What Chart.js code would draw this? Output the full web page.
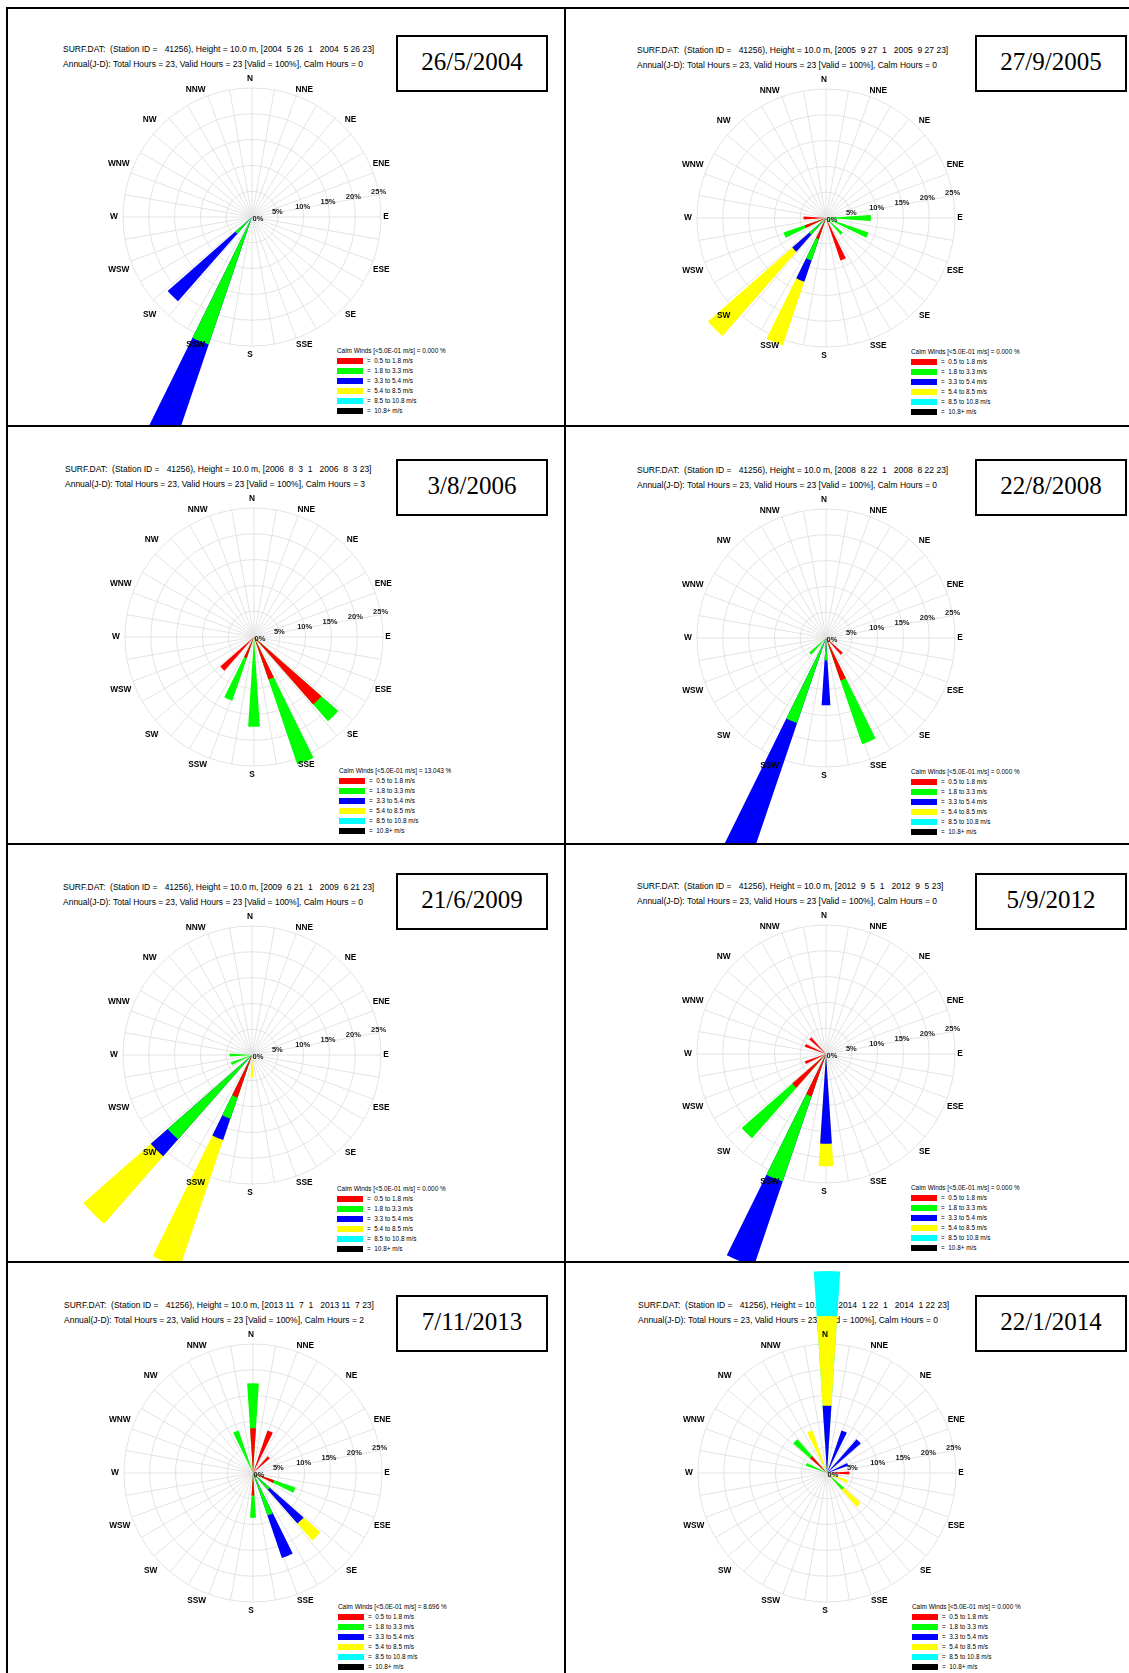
<!DOCTYPE html>
<html><head><meta charset="utf-8">
<script src="https://cdn.jsdelivr.net/npm/chart.js@4.4.1/dist/chart.umd.min.js"></script>
<style>
html,body{margin:0;padding:0;background:#fff;}
body{width:1129px;height:1673px;position:relative;overflow:hidden;font-family:"Liberation Sans",Arial,sans-serif;}
.ln{position:absolute;background:#000;}
.hdr{position:absolute;white-space:pre;font-size:8.5px;line-height:10px;height:10px;color:#000;}
.date{position:absolute;border:2px solid #000;box-sizing:border-box;font-family:"Liberation Serif","Times New Roman",serif;font-size:25px;line-height:25px;display:flex;align-items:center;justify-content:center;color:#000;background:#fff;padding-bottom:5px;}
.leg{position:absolute;white-space:pre;font-size:6.4px;line-height:8px;height:8px;color:#000;}
.sw{position:absolute;width:26px;height:6px;}
canvas{position:absolute;}
</style></head><body>
<script>
// ---------------- data ----------------
const directions = ['N','NNE','NE','ENE','E','ESE','SE','SSE','S','SSW','SW','WSW','W','WNW','NW','NNW'];
const speedClasses = ['0.5 to 1.8 m/s','1.8 to 3.3 m/s','3.3 to 5.4 m/s','5.4 to 8.5 m/s','8.5 to 10.8 m/s','10.8+ m/s'];
const ringTicks = [0,5,10,15,20,25];
const ringTickLabels = ['0%','5%','10%','15%','20%','25%'];
const panelDates = ['26/5/2004','27/9/2005','3/8/2006','22/8/2008','21/6/2009','5/9/2012','7/11/2013','22/1/2014'];
const periodStrings = ['2004  5 26  1   2004  5 26 23','2005  9 27  1   2005  9 27 23','2006  8  3  1   2006  8  3 23','2008  8 22  1   2008  8 22 23','2009  6 21  1   2009  6 21 23','2012  9  5  1   2012  9  5 23','2013 11  7  1   2013 11  7 23','2014  1 22  1   2014  1 22 23'];
const totalHours = [23,23,23,23,23,23,23,23];
const validHours = [23,23,23,23,23,23,23,23];
const calmHours  = [0,0,3,0,0,0,2,0];

// hours per direction (N, NNE, ..., NNW), one row per speed class
const hours2004 = [
 [0,0,0,0,0,0,0,0,0,0,0,0,0,0,0,0],
 [0,0,0,0,0,0,0,0,0,6,1,0,0,0,0,0],
 [0,0,0,0,0,0,0,0,0,12,4,0,0,0,0,0],
 [0,0,0,0,0,0,0,0,0,0,0,0,0,0,0,0],
 [0,0,0,0,0,0,0,0,0,0,0,0,0,0,0,0],
 [0,0,0,0,0,0,0,0,0,0,0,0,0,0,0,0]];
const hours2005 = [
 [0,0,0,0,0,0,0,2,0,1,0,1,1,0,0,0],
 [0,0,0,0,2,2,1,0,0,1,1,1,0,0,0,0],
 [0,0,0,0,0,0,0,0,0,1,1,0,0,0,0,0],
 [0,0,0,0,0,0,0,0,0,3,5,0,0,0,0,0],
 [0,0,0,0,0,0,0,0,0,0,0,0,0,0,0,0],
 [0,0,0,0,0,0,0,0,0,0,0,0,0,0,0,0]];
const hours2006 = [
 [0,0,0,0,0,0,4,2,0,1,2,0,0,0,0,0],
 [0,0,0,0,0,0,1,4,4,2,0,0,0,0,0,0],
 [0,0,0,0,0,0,0,0,0,0,0,0,0,0,0,0],
 [0,0,0,0,0,0,0,0,0,0,0,0,0,0,0,0],
 [0,0,0,0,0,0,0,0,0,0,0,0,0,0,0,0],
 [0,0,0,0,0,0,0,0,0,0,0,0,0,0,0,0]];
const hours2008 = [
 [0,0,0,0,0,0,1,2,0,0,0,0,0,0,0,0],
 [0,0,0,0,0,0,0,3,1,4,1,0,0,0,0,0],
 [0,0,0,0,0,0,0,0,2,9,0,0,0,0,0,0],
 [0,0,0,0,0,0,0,0,0,0,0,0,0,0,0,0],
 [0,0,0,0,0,0,0,0,0,0,0,0,0,0,0,0],
 [0,0,0,0,0,0,0,0,0,0,0,0,0,0,0,0]];
const hours2009 = [
 [0,0,0,0,0,0,0,0,0,2,0,0,0,0,0,0],
 [0,0,0,0,0,0,0,0,0,1,5,1,1,0,0,0],
 [0,0,0,0,0,0,0,0,0,1,1,0,0,0,0,0],
 [0,0,0,0,0,0,0,0,1,6,4,0,0,0,0,0],
 [0,0,0,0,0,0,0,0,0,0,0,0,0,0,0,0],
 [0,0,0,0,0,0,0,0,0,0,0,0,0,0,0,0]];
const hours2012 = [
 [0,0,0,0,0,0,0,0,0,2,2,1,0,1,1,0],
 [0,0,0,0,0,0,0,0,0,4,3,0,0,0,0,0],
 [0,0,0,0,0,0,0,0,4,4,0,0,0,0,0,0],
 [0,0,0,0,0,0,0,0,1,0,0,0,0,0,0,0],
 [0,0,0,0,0,0,0,0,0,0,0,0,0,0,0,0],
 [0,0,0,0,0,0,0,0,0,0,0,0,0,0,0,0]];
const hours2013 = [
 [2,2,1,0,0,1,0,0,1,0,0,0,0,0,0,0],
 [2,0,0,0,0,1,1,2,1,0,0,0,0,0,0,2],
 [0,0,0,0,0,0,2,2,0,0,0,0,0,0,0,0],
 [0,0,0,0,0,0,1,0,0,0,0,0,0,0,0,0],
 [0,0,0,0,0,0,0,0,0,0,0,0,0,0,0,0],
 [0,0,0,0,0,0,0,0,0,0,0,0,0,0,0,0]];
const hours2014 = [
 [0,0,0,0,1,0,0,0,0,0,0,0,0,0,1,0],
 [0,0,0,0,0,0,1,0,0,0,0,0,0,1,1,0],
 [3,2,2,1,0,0,0,0,0,0,0,0,0,0,0,0],
 [4,0,0,0,0,1,1,0,0,0,0,0,0,0,0,2],
 [2,0,0,0,0,0,0,0,0,0,0,0,0,0,0,0],
 [0,0,0,0,0,0,0,0,0,0,0,0,0,0,0,0]];
const panelHours = [hours2004,hours2005,hours2006,hours2008,hours2009,hours2012,hours2013,hours2014];

// ---------------- styles / layout ----------------
const classColors = ['#ff0000','#00ff00','#0000ff','#ffff00','#00ffff','#000000'];
const GRID = '#e3e3e3';
const R = 129;
const BAR_DEG = 7.5, GAP_DEG = 15;
const colX = [[8,556],[566,563]];
const rowY = [[9,416],[427,416],[845,416],[1263,410]];
const centers = [[252,217],[826,218],[254,637],[826,638],[252,1055],[826,1054],[253,1473],[827,1473]];
const dateBoxes = [[396,35],[975,35],[396,459],[975,459],[396,873],[975,873],[396,1295],[975,1295]];
const DATE_W = 152, DATE_H = 57;

function div(cls, x, y, text, extra){
  const d = document.createElement('div');
  d.className = cls; d.style.left = x+'px'; d.style.top = y+'px';
  if (text !== undefined) d.textContent = text;
  if (extra) Object.assign(d.style, extra);
  document.body.appendChild(d); return d;
}
// frame lines
div('ln',6,7,undefined,{width:'1123px',height:'2px'});
div('ln',6,425,undefined,{width:'1123px',height:'2px'});
div('ln',6,843,undefined,{width:'1123px',height:'2px'});
div('ln',6,1261,undefined,{width:'1123px',height:'2px'});
div('ln',6,7,undefined,{width:'2px',height:'1666px'});
div('ln',564,7,undefined,{width:'2px',height:'1666px'});

const rosePlugin = {
  id:'rose',
  beforeDatasetsDraw(chart){
    const s = chart.scales.r, ctx = chart.ctx;
    const rr = s.getDistanceFromCenterForValue(ringTicks[ringTicks.length-1]);
    ctx.save(); ctx.strokeStyle = GRID; ctx.lineWidth = 1;
    for (let k=0;k<36;k++){
      const a = k*10*Math.PI/180;
      ctx.beginPath(); ctx.moveTo(s.xCenter, s.yCenter);
      ctx.lineTo(s.xCenter + rr*Math.sin(a), s.yCenter - rr*Math.cos(a)); ctx.stroke();
    }
    ctx.restore();
  },
  afterDatasetsDraw(chart){
    const s = chart.scales.r, ctx = chart.ctx;
    const rOuter = s.getDistanceFromCenterForValue(ringTicks[ringTicks.length-1]);
    ctx.save();
    ctx.textAlign='center'; ctx.textBaseline='middle';
    ctx.fillStyle='#000'; ctx.font='bold 8.3px "Liberation Sans", Arial, sans-serif';
    directions.forEach((d,i)=>{
      const a = i*22.5*Math.PI/180;
      const rx = (i % 4 === 0) ? rOuter + 7 : rOuter + 13;
      const ry = rOuter + 9;
      ctx.fillText(d, s.xCenter - 2 + rx*Math.sin(a), s.yCenter - ry*Math.cos(a));
    });
    ctx.font='bold 7.5px "Liberation Sans", Arial, sans-serif'; ctx.fillStyle='#222';
    const ta = 79*Math.PI/180;
    ringTicks.forEach((v,i)=>{
      if (v === 0){ ctx.fillText(ringTickLabels[i], s.xCenter+6, s.yCenter+2); return; }
      const r = s.getDistanceFromCenterForValue(v);
      ctx.fillText(ringTickLabels[i], s.xCenter + r*Math.sin(ta), s.yCenter - r*Math.cos(ta));
    });
    ctx.restore();
  }
};

panelDates.forEach((date, i)=>{
  const col = colX[i%2], row = rowY[Math.floor(i/2)];
  const [cx, cy] = centers[i];
  // header text
  div('hdr', cx-189, cy-173, `SURF.DAT:  (Station ID =   41256), Height = 10.0 m, [${periodStrings[i]}]`);
  div('hdr', cx-189, cy-158, `Annual(J-D): Total Hours = ${totalHours[i]}, Valid Hours = ${validHours[i]} [Valid = 100%], Calm Hours = ${calmHours[i]}`);
  // date box
  div('date', dateBoxes[i][0], dateBoxes[i][1], date, {width:DATE_W+'px', height:DATE_H+'px'});
  // legend
  const lx = cx+85, ly = cy+134;
  div('leg', lx, ly-4, `Calm Winds [<5.0E-01 m/s] = ${(calmHours[i]/totalHours[i]*100).toFixed(3)} %`);
  speedClasses.forEach((sc,k)=>{
    const yy = ly + 10 + k*9.9;
    div('sw', lx, Math.round(yy-3), undefined, {background:classColors[k]});
    div('leg', lx+30, yy-4, `=  ${sc}`);
  });
  // chart canvas
  const canvas = document.createElement('canvas');
  canvas.width = col[1]; canvas.height = row[1];
  Object.assign(canvas.style,{left:col[0]+'px', top:row[0]+'px', width:col[1]+'px', height:row[1]+'px'});
  document.body.appendChild(canvas);
  const hrs = panelHours[i], tot = totalHours[i];
  const labels = [];
  directions.forEach(d=>{ labels.push(d); labels.push(''); });
  const datasets = speedClasses.map((name,c)=>{
    const data = [];
    for (let d=0; d<directions.length; d++){
      let cum = 0;
      for (let k=0;k<=c;k++) cum += hrs[k][d];
      data.push(hrs[c][d] > 0 ? cum/tot*100 : 0);
      data.push(0);
    }
    return {label:name, data, backgroundColor:classColors[c], borderWidth:0, clip:false,
      angle:(ctx)=> ctx.dataIndex % 2 === 0 ? BAR_DEG : GAP_DEG};
  });
  const lcx = cx - col[0], lcy = cy - row[0];
  new Chart(canvas, {
    type:'polarArea',
    data:{labels, datasets},
    options:{
      responsive:false, animation:false, devicePixelRatio:1, events:[],
      layout:{padding:{left:lcx-R, top:lcy-R, right:col[1]-lcx-R, bottom:row[1]-lcy-R}},
      plugins:{legend:{display:false}, tooltip:{enabled:false}},
      scales:{r:{min:0, max:25, startAngle:-BAR_DEG/2,
        ticks:{display:false, stepSize:5},
        grid:{circular:true, color:GRID, lineWidth:1},
        angleLines:{display:false}, pointLabels:{display:false}}}
    },
    plugins:[rosePlugin]
  });
});
</script>
</body></html>
